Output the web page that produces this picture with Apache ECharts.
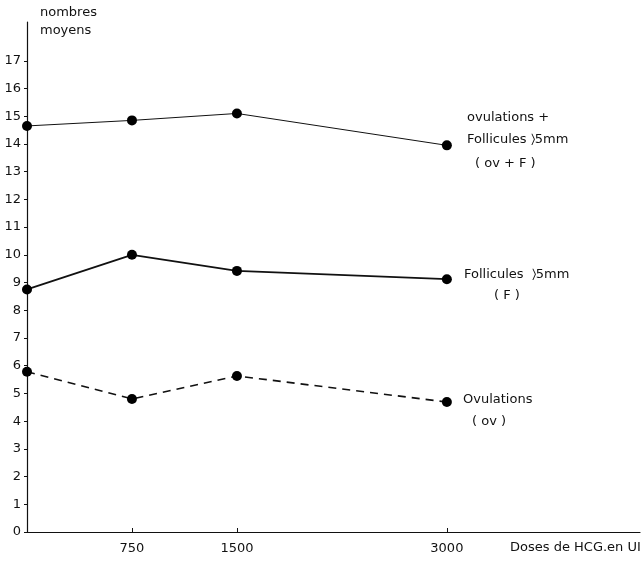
<!DOCTYPE html>
<html lang="fr">
  <head>
    <meta charset="UTF-8" />
    <title>Doses de HCG</title>
    <script src="https://cdn.jsdelivr.net/npm/echarts@6/dist/echarts.min.js"></script>
    <style>
      html, body { margin: 0; padding: 0; background: #fff; }
      .box { width: 642px; height: 567px; }
    </style>
  </head>
  <body>
    <div class="box"></div>
    <script>
      // données
      var doses = [0, 750, 1500, 3000];
      var doseLabels = [750, 1500, 3000];
      var ovF = [14.65, 14.85, 15.1, 13.95];
      var foll = [8.75, 10.0, 9.42, 9.12];
      var ovul = [5.78, 4.8, 5.63, 4.69];
      var yTicks = [0, 1, 2, 3, 4, 5, 6, 7, 8, 9, 10, 11, 12, 13, 14, 15, 16, 17];

      function pairs(xs, ys) {
        var out = [];
        for (var i = 0; i < xs.length; i++) out.push([xs[i], ys[i]]);
        return out;
      }

      var font = "DejaVu Sans";
      var box = document.getElementsByClassName("box")[0];
      var chart = echarts.init(box);

      var txt = function (x, y, s) {
        return {
          type: "text", left: x, top: y,
          style: { text: s, fontFamily: font, fontSize: 13, fill: "#111" }
        };
      };

      chart.setOption({
        animation: false,
        grid: { left: 27, right: 2, top: 22, bottom: 35, containLabel: false },
        xAxis: {
          type: "value",
          min: 0,
          max: 4380,
          axisLine: { show: true, lineStyle: { color: "#111", width: 1.2 } },
          axisTick: { show: true, customValues: doseLabels, length: 4, inside: true, lineStyle: { color: "#111" } },
          axisLabel: {
            customValues: doseLabels, color: "#111", fontFamily: font, fontSize: 13, margin: 10,
            formatter: function (v) { return String(v); }
          },
          splitLine: { show: false }
        },
        yAxis: {
          type: "value",
          min: 0,
          max: 18.4,
          axisLine: { show: true, lineStyle: { color: "#111", width: 1.2 } },
          axisTick: { show: true, customValues: yTicks, length: 3, lineStyle: { color: "#111" } },
          axisLabel: { customValues: yTicks, color: "#111", fontFamily: font, fontSize: 13, margin: 6 },
          splitLine: { show: false }
        },
        graphic: [
          txt(40, 6, "nombres"),
          txt(40, 24, "moyens"),
          txt(510, 541, "Doses de HCG.en UI"),
          txt(467, 111, "ovulations +"),
          txt(467, 133, "Follicules \u232A5mm"),
          txt(475, 157, "( ov + F )"),
          txt(464, 268, "Follicules  \u232A5mm"),
          txt(494, 289, "( F )"),
          txt(463, 393, "Ovulations"),
          txt(472, 415, "( ov )")
        ],
        series: [
          {
            name: "ov + F",
            type: "line",
            data: pairs(doses, ovF),
            symbol: "circle",
            symbolSize: 10,
            itemStyle: { color: "#000" },
            lineStyle: { color: "#111", width: 1 }
          },
          {
            name: "F",
            type: "line",
            data: pairs(doses, foll),
            symbol: "circle",
            symbolSize: 10,
            itemStyle: { color: "#000" },
            lineStyle: { color: "#111", width: 1.8 }
          },
          {
            name: "ov",
            type: "line",
            data: pairs(doses, ovul),
            symbol: "circle",
            symbolSize: 10,
            itemStyle: { color: "#000" },
            lineStyle: { color: "#111", width: 1.6, type: [8, 6] }
          }
        ]
      });
    </script>
  </body>
</html>
